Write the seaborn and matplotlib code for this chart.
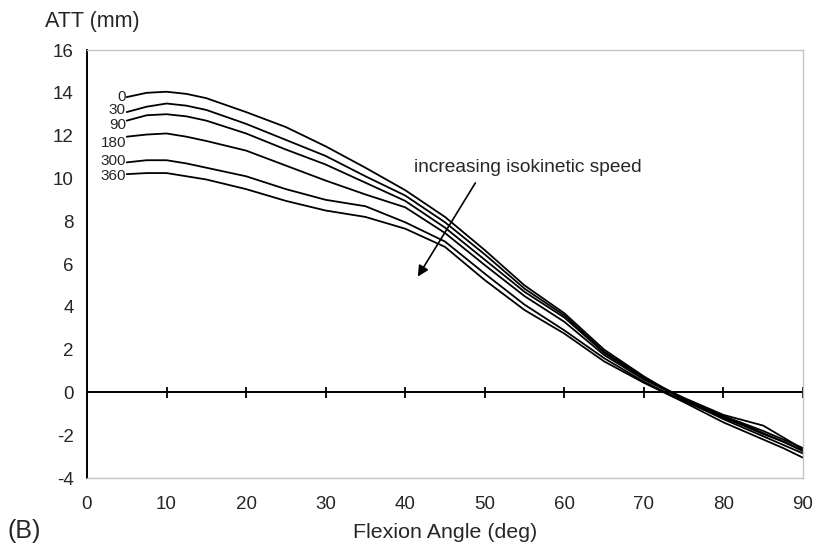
import numpy as np
import pandas as pd
import matplotlib
matplotlib.use("Agg")
import matplotlib.pyplot as plt
import seaborn as sns

# Flexion angles (deg) at which ATT was sampled
flexion = [5, 7.5, 10, 12.5, 15, 20, 25, 30, 35, 40, 45, 50, 55, 60, 65, 70, 75,
           80, 82.5, 85, 87.5, 90]

# Anterior tibial translation (mm) for each isokinetic speed (deg/s)
att_0   = [13.8, 14.0, 14.05, 13.95, 13.75, 13.1, 12.4, 11.5, 10.5, 9.45, 8.2, 6.65, 5.0, 3.7, 2.0, 0.75, -0.35,
           -1.25, -1.65, -2.05, -2.45, -2.85]
att_30  = [13.1, 13.35, 13.5, 13.4, 13.2, 12.55, 11.8, 11.05, 10.1, 9.2, 7.95, 6.45, 4.85, 3.6, 1.9, 0.7, -0.3,
           -1.15, -1.5, -1.9, -2.3, -2.75]
att_90  = [12.7, 12.95, 13.0, 12.9, 12.7, 12.1, 11.35, 10.65, 9.8, 8.95, 7.7, 6.2, 4.7, 3.5, 1.85, 0.65, -0.25,
           -1.05, -1.3, -1.55, -2.1, -2.65]
att_180 = [11.95, 12.05, 12.1, 11.95, 11.75, 11.3, 10.6, 9.9, 9.25, 8.65, 7.45, 5.95, 4.5, 3.3, 1.75, 0.6, -0.3,
           -1.1, -1.45, -1.8, -2.2, -2.6]
att_300 = [10.75, 10.85, 10.85, 10.7, 10.5, 10.1, 9.5, 9.0, 8.7, 7.95, 7.05, 5.55, 4.1, 2.9, 1.6, 0.5, -0.4,
           -1.2, -1.55, -1.95, -2.3, -2.7]
att_360 = [10.2, 10.25, 10.25, 10.1, 9.95, 9.5, 8.95, 8.5, 8.2, 7.65, 6.8, 5.25, 3.85, 2.75, 1.45, 0.45, -0.45,
           -1.4, -1.8, -2.2, -2.6, -3.05]

speeds = ["0", "30", "90", "180", "300", "360"]
series = [att_0, att_30, att_90, att_180, att_300, att_360]

x_ticks = [0, 10, 20, 30, 40, 50, 60, 70, 80, 90]
y_ticks = [-4, -2, 0, 2, 4, 6, 8, 10, 12, 14, 16]

df = pd.DataFrame({
    "angle": np.tile(flexion, len(speeds)),
    "att": np.concatenate(series),
    "speed": np.repeat(speeds, len(flexion)),
})

sns.set_style("white")
plt.rcParams["font.family"] = ["Liberation Sans", "DejaVu Sans"]
plt.rcParams["axes.unicode_minus"] = False

fig = plt.figure(figsize=(8.15, 5.46), dpi=100)
ax = fig.add_axes([0.1067, 0.1245, 0.8786, 0.7839])

sns.lineplot(data=df, x="angle", y="att", hue="speed", hue_order=speeds,
             palette=["black"] * len(speeds), legend=False, linewidth=1.3,
             ax=ax)

ax.set_xlim(0, 90)
ax.set_ylim(-4, 16)
ax.set_xticks(x_ticks)
ax.set_yticks(y_ticks)
ax.set_xlabel("")
ax.set_ylabel("")

# frame: dark left axis, light grey box elsewhere
for side in ["top", "right", "bottom"]:
    ax.spines[side].set_color("#c4c4c4")
    ax.spines[side].set_linewidth(1.0)
ax.spines["left"].set_color("black")
ax.spines["left"].set_linewidth(1.4)

ax.tick_params(axis="y", direction="out", length=5.5, width=1.2,
               color="black", labelsize=13.5, pad=4)
ax.tick_params(axis="x", length=0, labelsize=13.5, pad=13)

# zero line with crossing tick marks
ax.axhline(0, color="black", lw=1.4, zorder=1)
ax.vlines(x_ticks, -0.24, 0.24, color="black", lw=1.3, zorder=1)

# speed labels at the start of each curve
label_shift = [0.0, 0.1, -0.2, -0.3, 0.05, -0.1]
for name, vals, dy in zip(speeds, series, label_shift):
    ax.text(flexion[0] - 0.1, vals[0] + dy, name, ha="right", va="center",
            fontsize=11)

ax.annotate("", xy=(41.4, 5.3), xytext=(49.0, 9.9),
            arrowprops=dict(arrowstyle="-|>", color="black", lw=1.2,
                            mutation_scale=16))
ax.text(41.1, 10.5, "increasing isokinetic speed", ha="left", va="center",
        fontsize=13.8)

fig.text(0.055, 0.96, "ATT (mm)", ha="left", va="center", fontsize=15.5)
fig.text(0.546, 0.025, "Flexion Angle (deg)", ha="center", va="center",
         fontsize=15.4)
fig.text(0.009, 0.028, "(B)", ha="left", va="center", fontsize=18)

fig.savefig("out.png", dpi=100)
